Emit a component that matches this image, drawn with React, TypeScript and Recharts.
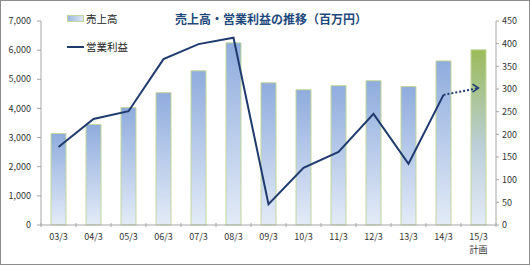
import { Bar, Cell, ComposedChart, Line, XAxis, YAxis } from "recharts";

const categories = ["03/3", "04/3", "05/3", "06/3", "07/3", "08/3", "09/3", "10/3", "11/3", "12/3", "13/3", "14/3", "15/3"];
const subLabels = ["", "", "", "", "", "", "", "", "", "", "", "", "計画"];
const sales = [3140, 3450, 4030, 4540, 5290, 6250, 4880, 4640, 4780, 4950, 4750, 5630, 6010];
const profit = [172, 234, 251, 366, 399, 413, 46, 126, 161, 245, 135, 287, null];
const planProfit = [null, null, null, null, null, null, null, null, null, null, null, 287, 302];
const leftTicks = [0, 1000, 2000, 3000, 4000, 5000, 6000, 7000];
const rightTicks = [0, 50, 100, 150, 200, 250, 300, 350, 400, 450];

const data = categories.map((name, i) => ({
  name,
  sub: subLabels[i],
  sales: sales[i],
  profit: profit[i],
  plan: planProfit[i]
}));

const font = "'Noto Sans CJK JP', 'Noto Sans', sans-serif";
const navy = "#1F3B6E";
const axisGrey = "#A6A6A6";

function XTick(props: any) {
  const { x, y, payload, index } = props;
  const half = payload?.offset ?? 17.5;
  const sub = subLabels[index];
  return (
    <g>
      <line x1={x - half} x2={x - half} y1={y - 2} y2={y + 2} stroke={axisGrey} />
      {index === categories.length - 1 && (
        <line x1={x + half} x2={x + half} y1={y - 2} y2={y + 2} stroke={axisGrey} />
      )}
      <text x={x} y={y + 15} textAnchor="middle" fontSize={9} fill="#333" fontFamily={font}>
        {payload.value}
      </text>
      {sub && (
        <text x={x} y={y + 28} textAnchor="middle" fontSize={9} fill="#333" fontFamily={font}>
          {sub}
        </text>
      )}
    </g>
  );
}

function ArrowDot(props: any) {
  const { cx, cy, index } = props;
  if (index !== categories.length - 1 || cx == null) return <g key={index} />;
  return (
    <path
      key={index}
      d={`M ${cx - 6} ${cy - 4} L ${cx} ${cy} L ${cx - 6} ${cy + 4}`}
      fill="none"
      stroke={navy}
      strokeWidth={1.5}
    />
  );
}

export default function App() {
  return (
    <div
      style={{
        position: "absolute",
        left: 0,
        top: 0,
        width: 530,
        height: 265,
        boxSizing: "border-box",
        border: "1px solid #8C8C8C",
        background: "#fff",
        fontFamily: font
      }}
    >
      <div
        style={{
          position: "absolute",
          left: 174,
          top: 9,
          whiteSpace: "nowrap",
          fontSize: 12,
          fontWeight: 700,
          color: "#1F497D"
        }}
      >
        売上高・営業利益の推移（百万円）
      </div>
      <div style={{ position: "absolute", left: 66, top: 10, display: "flex", alignItems: "center", fontSize: 10.5, color: "#222" }}>
        <span
          style={{
            display: "inline-block",
            width: 17,
            height: 7,
            boxSizing: "border-box",
            border: "1px solid #C3D69B",
            background: "linear-gradient(to right, #9DB8E0, #DCE6F4)",
            marginRight: 2
          }}
        />
        売上高
      </div>
      <div style={{ position: "absolute", left: 66, top: 38, display: "flex", alignItems: "center", fontSize: 10.5, color: "#222" }}>
        <span style={{ display: "inline-block", width: 17, height: 2, background: navy, marginRight: 2 }} />
        営業利益
      </div>
      <ComposedChart width={528} height={263} data={data} margin={{ top: 20, right: 0, bottom: 0, left: 0 }}>
        <defs>
          <linearGradient id="salesGrad" x1="0" y1="0" x2="0" y2="1">
            <stop offset="0%" stopColor="#8FACDD" />
            <stop offset="100%" stopColor="#E3EBF7" />
          </linearGradient>
          <linearGradient id="planGrad" x1="0" y1="0" x2="0" y2="1">
            <stop offset="0%" stopColor="#9BBB59" />
            <stop offset="55%" stopColor="#BCCFD8" />
            <stop offset="100%" stopColor="#E3EBF7" />
          </linearGradient>
        </defs>
        <XAxis
          dataKey="name"
          height={39}
          stroke={axisGrey}
          tickLine={false}
          tickSize={0}
          tickMargin={0}
          tick={<XTick />}
          interval={0}
        />
        <YAxis
          yAxisId="left"
          width={40}
          domain={[0, 7000]}
          ticks={leftTicks}
          tickFormatter={(v) => Number(v).toLocaleString("en-US")}
          stroke={axisGrey}
          tickSize={4}
          tickMargin={6}
          tick={{ fontSize: 9, fill: "#333", fontFamily: font }}
        />
        <YAxis
          yAxisId="right"
          orientation="right"
          width={33}
          domain={[0, 450]}
          ticks={rightTicks}
          stroke={axisGrey}
          tickSize={3}
          tickMargin={3}
          tick={{ fontSize: 9, fill: "#333", fontFamily: font }}
        />
        <Bar yAxisId="left" dataKey="sales" barSize={15} fill="url(#salesGrad)" stroke="#C3D69B" strokeWidth={1} isAnimationActive={false}>
          {data.map((_, i) => (
            <Cell key={i} fill={i === data.length - 1 ? "url(#planGrad)" : "url(#salesGrad)"} />
          ))}
        </Bar>
        <Line yAxisId="right" type="linear" dataKey="profit" stroke={navy} strokeWidth={2} dot={false} isAnimationActive={false} />
        <Line
          yAxisId="right"
          type="linear"
          dataKey="plan"
          stroke={navy}
          strokeWidth={2}
          strokeDasharray="2 2"
          dot={<ArrowDot />}
          activeDot={false}
          isAnimationActive={false}
        />
      </ComposedChart>
    </div>
  );
}
